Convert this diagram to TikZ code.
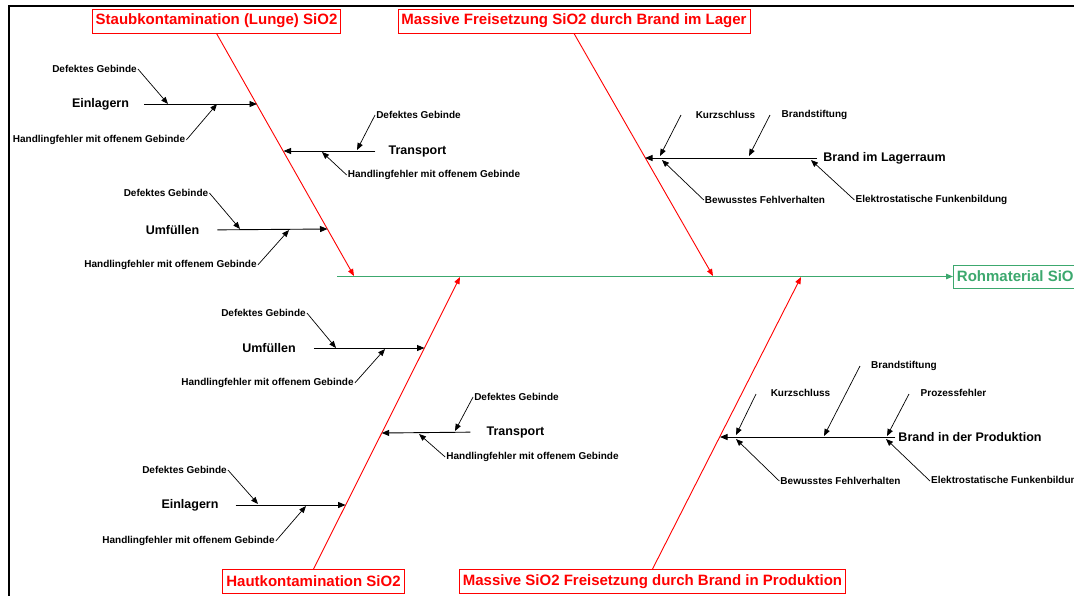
\documentclass[tikz,border=0pt]{standalone}
\usepackage{fontspec}
\setmainfont{Liberation Sans}
\usetikzlibrary{arrows.meta}
\definecolor{rohgreen}{RGB}{60,168,110}

\begin{document}
\begin{tikzpicture}[x=1pt, y=-1pt,
    bone/.style={draw=red, line width=0.9pt, -{Triangle[length=7pt, width=5.5pt]}},
    spine/.style={draw=rohgreen, line width=1.1pt, -{Triangle[length=7pt, width=5.5pt]}},
    limb/.style={line width=0.9pt, -{Triangle[length=7.5pt, width=6pt]}},
    causearrow/.style={line width=0.7pt, -{Triangle[length=7pt, width=5.5pt]}},
    title/.style={rectangle, draw=red, line width=0.9pt, text=red, fill=white, font=\bfseries\fontsize{15}{18}\selectfont, inner xsep=3.5pt, minimum height=24pt},
    head/.style={rectangle, draw=rohgreen, line width=0.9pt, text=rohgreen, fill=white, font=\bfseries\fontsize{15}{18}\selectfont, inner xsep=3.5pt, minimum height=23pt},
    cause/.style={font=\bfseries\fontsize{12.5}{15}\selectfont, inner sep=1pt},
    reason/.style={font=\bfseries\fontsize{10}{12}\selectfont, inner sep=1pt}
]
\useasboundingbox (0,0) rectangle (1074,595);
\clip (0,0) rectangle (1074,595);

% Frame
\draw[line width=2.6pt] (9,620) -- (9,6) -- (1100,6);

% Spine
\node[head, anchor=west] (rohm) at (953,276.5) {Rohmaterial SiO2};
\coordinate (tail) at (337,276.5);
\draw[spine] (tail) -- (rohm.west);

% Main bones
\node[title] (staub) at (216.5,21) {Staubkontamination (Lunge) SiO2};
\node[title] (lager) at (574,21) {Massive Freisetzung SiO2 durch Brand im Lager};
\node[title] (haut) at (313.5,581.5) {Hautkontamination SiO2};
\node[title] (prod) at (652.5,581.5) {Massive SiO2 Freisetzung durch Brand in Produktion};
\coordinate (staubend) at (354,276);
\coordinate (lagerend) at (713,276);
\coordinate (hautend) at (460,277);
\coordinate (prodend) at (801,277);
\draw[bone] (staub.south) -- (staubend);
\draw[bone] (lager.south) -- (lagerend);
\draw[bone] (haut.north) -- (hautend);
\draw[bone] (prod.north) -- (prodend);

% Staubkontamination: Einlagern
\node[cause] (einl1) at (100.5,104) {Einlagern};
\node[reason] (einl1a) at (94.5,69) {Defektes Gebinde};
\node[reason] (einl1b) at (99,140) {Handlingfehler mit offenem Gebinde};
\path (257,104) coordinate (einl1e) (168,104) coordinate (einl1p) (217,104) coordinate (einl1q);
\draw[limb, shorten <=14pt] (einl1.east) -- (einl1e);
\draw[causearrow] (einl1a.east) -- (einl1p);
\draw[causearrow] (einl1b.east) -- (einl1q);

% Staubkontamination: Transport
\node[cause] (trans1) at (417.5,151) {Transport};
\node[reason] (trans1a) at (418.5,115) {Defektes Gebinde};
\node[reason] (trans1b) at (434,175) {Handlingfehler mit offenem Gebinde};
\path (283.5,151) coordinate (trans1e) (357,150) coordinate (trans1p) (322,152) coordinate (trans1q);
\draw[limb, shorten <=12pt] (trans1.west) -- (trans1e);
\draw[causearrow] (trans1a.west) -- (trans1p);
\draw[causearrow] (trans1b.west) -- (trans1q);

% Staubkontamination: Umfuellen
\node[cause] (umf1) at (172.5,230) {Umfüllen};
\node[reason] (umf1a) at (166,193) {Defektes Gebinde};
\node[reason] (umf1b) at (170.5,265) {Handlingfehler mit offenem Gebinde};
\path (327.5,229) coordinate (umf1e) (240,229) coordinate (umf1p) (289,230) coordinate (umf1q);
\draw[limb, shorten <=17pt] (umf1.east) -- (umf1e);
\draw[causearrow] (umf1a.east) -- (umf1p);
\draw[causearrow] (umf1b.east) -- (umf1q);

% Brand im Lager
\node[cause] (lagr) at (884.5,158) {Brand im Lagerraum};
\node[reason] (lagra) at (725.5,115) {Kurzschluss};
\node[reason] (lagrb) at (814.5,115) {Brandstiftung};
\node[reason] (lagrc) at (765,200) {Bewusstes Fehlverhalten};
\node[reason] (lagrd) at (931.5,200) {Elektrostatische Funkenbildung};
\path (645,158) coordinate (lagre) (681,115) coordinate (lagras) (660,156) coordinate (lagrp)
      (770,115) coordinate (lagrbs) (749,156) coordinate (lagrq)
      (662,160) coordinate (lagrr) (811,160) coordinate (lagrt);
\draw[limb, shorten <=5pt] (lagr.west) -- (lagre);
\draw[causearrow] (lagras) -- (lagrp);
\draw[causearrow] (lagrbs) -- (lagrq);
\draw[causearrow] (lagrc.west) -- (lagrr);
\draw[causearrow] (lagrd.west) -- (lagrt);

% Hautkontamination: Umfuellen
\node[cause] (umf2) at (269,348) {Umfüllen};
\node[reason] (umf2a) at (263.5,313) {Defektes Gebinde};
\node[reason] (umf2b) at (267.5,383) {Handlingfehler mit offenem Gebinde};
\path (424.5,348) coordinate (umf2e) (336,348) coordinate (umf2p) (385,349) coordinate (umf2q);
\draw[limb, shorten <=17pt] (umf2.east) -- (umf2e);
\draw[causearrow] (umf2a.east) -- (umf2p);
\draw[causearrow] (umf2b.east) -- (umf2q);

% Hautkontamination: Transport
\node[cause] (trans2) at (515.5,432) {Transport};
\node[reason] (trans2a) at (516.5,397) {Defektes Gebinde};
\node[reason] (trans2b) at (532.5,457) {Handlingfehler mit offenem Gebinde};
\path (381.7,433) coordinate (trans2e) (455,431) coordinate (trans2p) (419,434) coordinate (trans2q);
\draw[limb, shorten <=15pt] (trans2.west) -- (trans2e);
\draw[causearrow] (trans2a.west) -- (trans2p);
\draw[causearrow] (trans2b.west) -- (trans2q);

% Hautkontamination: Einlagern
\node[cause] (einl2) at (190,505) {Einlagern};
\node[reason] (einl2a) at (184.5,470) {Defektes Gebinde};
\node[reason] (einl2b) at (188.5,541) {Handlingfehler mit offenem Gebinde};
\path (345.6,505) coordinate (einl2e) (258,504) coordinate (einl2p) (306,506) coordinate (einl2q);
\draw[limb, shorten <=16pt] (einl2.east) -- (einl2e);
\draw[causearrow] (einl2a.east) -- (einl2p);
\draw[causearrow] (einl2b.east) -- (einl2q);

% Brand in Produktion
\node[cause] (prodr) at (970,437) {Brand in der Produktion};
\node[reason] (proda) at (800.5,393) {Kurzschluss};
\node[reason] (prodb) at (904,366) {Brandstiftung};
\node[reason] (prodc) at (953.5,393) {Prozessfehler};
\node[reason] (prodd) at (840.5,481) {Bewusstes Fehlverhalten};
\node[reason, anchor=west] (prode) at (930,481) {Elektrostatische Funkenbildung};
\path (720,437) coordinate (prodre) (756,394) coordinate (prodas) (736,435) coordinate (prodp)
      (860,366) coordinate (prodbs) (824,436) coordinate (prodq)
      (909,394) coordinate (prodcs) (887,436) coordinate (prodt)
      (736,439) coordinate (produ) (886,439) coordinate (prodv);
\draw[limb, shorten <=2pt] (prodr.west) -- (prodre);
\draw[causearrow] (prodas) -- (prodp);
\draw[causearrow] (prodbs) -- (prodq);
\draw[causearrow] (prodcs) -- (prodt);
\draw[causearrow] (prodd.west) -- (produ);
\draw[causearrow] (prode.west) -- (prodv);
\end{tikzpicture}
\end{document}
